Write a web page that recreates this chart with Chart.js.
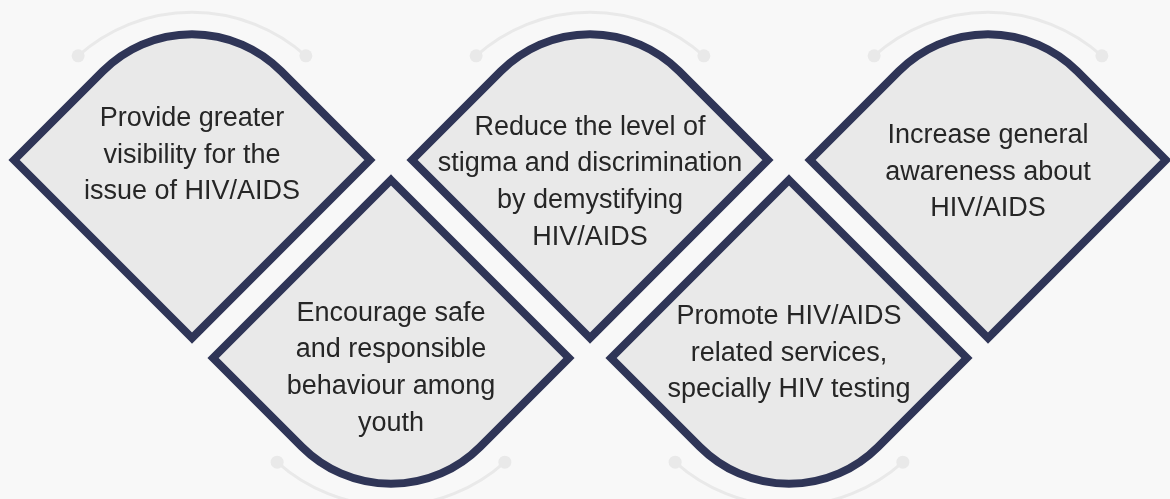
<!DOCTYPE html>
<html>
<head>
<meta charset="utf-8">
<script src="https://cdn.jsdelivr.net/npm/chart.js@4"></script>
<style>
  html, body { margin: 0; padding: 0; background: #f8f8f8; }
  #wrap { width: 1170px; height: 499px; position: relative; }
</style>
</head>
<body>
<div id="wrap"><canvas id="c"></canvas></div>
<script>
// ---- data ----
const labels = [
  "Provide greater\nvisibility for the\nissue of HIV/AIDS",
  "Encourage safe\nand responsible\nbehaviour among\nyouth",
  "Reduce the level of\nstigma and discrimination\nby demystifying\nHIV/AIDS",
  "Promote HIV/AIDS\nrelated services,\nspecially HIV testing",
  "Increase general\nawareness about\nHIV/AIDS"
];
const columns = [0, 1, 2, 3, 4];
const rows = [1, 0, 1, 0, 1];          // 1 = upper row (arched top), 0 = lower row (arched bottom)

// ---- layout / style (not data) ----
const textShift = [-7, 8, 20, -7, 10]; // px, vertical nudge of each text block
const style = {
  fill: '#e9e9e9',
  stroke: '#2f3557',
  strokeWidth: 8,
  halfW: 0.894,   // in x-scale units
  halfH: 0.899,   // in y-scale units
  cornerR: 126,   // px
  deco: '#e9e9e9',
  decoWidth: 3,
  dotR: 6.5,
  text: '#262626',
  font: '27px "Liberation Sans", Arial, Helvetica, sans-serif',
  lineH: 36.7
};

const shapesPlugin = {
  id: 'shapes',
  afterDatasetsDraw(chart) {
    const ctx = chart.ctx;
    const xs = chart.scales.x, ys = chart.scales.y;
    const meta = chart.getDatasetMeta(0);
    const hwPx = Math.abs(xs.getPixelForValue(style.halfW) - xs.getPixelForValue(0));
    const hhPx = Math.abs(ys.getPixelForValue(style.halfH) - ys.getPixelForValue(0));

    // decorations first
    meta.data.forEach((pt, i) => {
      const cx = pt.x, cy = pt.y;
      const up = rows[i] === 1;
      const dx = hwPx * 0.64, dy = hhPx * 0.585, peak = hhPx * 0.83;
      const sag = peak - dy;
      const r = (dx * dx + sag * sag) / (2 * sag);
      ctx.save();
      ctx.strokeStyle = style.deco;
      ctx.fillStyle = style.deco;
      ctx.lineWidth = style.decoWidth;
      ctx.beginPath();
      if (up) {
        const ccy = cy - peak + r;
        const a1 = Math.atan2((cy - dy) - ccy, -dx);
        const a2 = Math.atan2((cy - dy) - ccy, dx);
        ctx.arc(cx, ccy, r, a1, a2, false);
      } else {
        const ccy = cy + peak - r;
        const a1 = Math.atan2((cy + dy) - ccy, dx);
        const a2 = Math.atan2((cy + dy) - ccy, -dx);
        ctx.arc(cx, ccy, r, a1, a2, false);
      }
      ctx.stroke();
      const yd = up ? cy - dy : cy + dy;
      [cx - dx, cx + dx].forEach(x => {
        ctx.beginPath();
        ctx.arc(x, yd, style.dotR, 0, Math.PI * 2);
        ctx.fill();
      });
      ctx.restore();
    });

    meta.data.forEach((pt, i) => {
      const cx = pt.x, cy = pt.y;
      const up = rows[i] === 1;
      ctx.save();
      ctx.beginPath();
      if (up) {
        ctx.moveTo(cx, cy + hhPx);
        ctx.lineTo(cx - hwPx, cy);
        ctx.arcTo(cx, cy - hhPx, cx + hwPx, cy, style.cornerR);
        ctx.lineTo(cx + hwPx, cy);
      } else {
        ctx.moveTo(cx, cy - hhPx);
        ctx.lineTo(cx + hwPx, cy);
        ctx.arcTo(cx, cy + hhPx, cx - hwPx, cy, style.cornerR);
        ctx.lineTo(cx - hwPx, cy);
      }
      ctx.closePath();
      ctx.fillStyle = style.fill;
      ctx.fill();
      ctx.lineJoin = 'miter';
      ctx.lineWidth = style.strokeWidth;
      ctx.strokeStyle = style.stroke;
      ctx.stroke();

      const lines = labels[i].split('\n');
      ctx.font = style.font;
      ctx.fillStyle = style.text;
      ctx.textAlign = 'center';
      ctx.textBaseline = 'alphabetic';
      const cap = 27 * 0.716;
      let y0 = cy + textShift[i] - (lines.length - 1) * style.lineH / 2 + cap / 2;
      lines.forEach((ln, k) => ctx.fillText(ln, cx, y0 + k * style.lineH));
      ctx.restore();
    });
  }
};

const unitX = 199, unitY = 198, x0 = 192, yTop = 160, yBot = 358;
new Chart(document.getElementById('c'), {
  type: 'scatter',
  data: {
    labels: labels,
    datasets: [{
      data: columns.map((c, i) => ({ x: c, y: rows[i] })),
      pointRadius: 0,
      pointHoverRadius: 0,
      backgroundColor: 'transparent',
      borderColor: 'transparent'
    }]
  },
  options: {
    responsive: true,
    maintainAspectRatio: false,
    animation: false,
    layout: { padding: 0 },
    plugins: { legend: { display: false }, tooltip: { enabled: false } },
    events: [],
    scales: {
      x: { type: 'linear', display: false, min: -x0 / unitX, max: (1170 - x0) / unitX },
      y: { type: 'linear', display: false, min: -(499 - yBot) / unitY, max: 1 + yTop / unitY }
    }
  },
  plugins: [shapesPlugin]
});
</script>
</body>
</html>
